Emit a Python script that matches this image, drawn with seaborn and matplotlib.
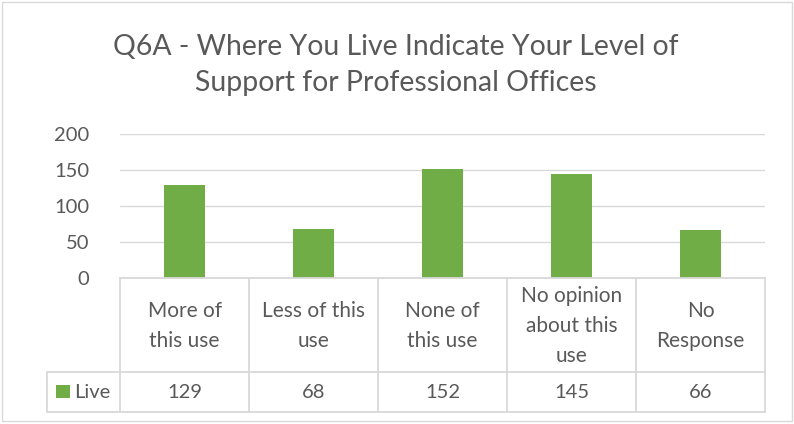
import matplotlib
matplotlib.use("Agg")
import matplotlib.pyplot as plt
import seaborn as sns
import pandas as pd
from matplotlib.patches import Rectangle
from matplotlib.lines import Line2D

# Survey responses (Q6A)
categories = ["More of\nthis use", "Less of this\nuse", "None of\nthis use",
              "No opinion\nabout this\nuse", "No\nResponse"]
live = [129, 68, 152, 145, 66]
series_name = "Live"
title = "Q6A - Where You Live Indicate Your Level of\nSupport for Professional Offices"
yticks = [0, 50, 100, 150, 200]

GREEN = "#70AD47"
GRID = "#D9D9D9"
TEXT = "#595959"
FS = 14.5
FS_CAT = 15

sns.set_theme(style="white")
plt.rcParams["font.family"] = ["Lato", "DejaVu Sans"]

W, H = 794, 424
fig = plt.figure(figsize=(W / 100, H / 100), dpi=100)

def fx(px):
    return px / W

def fy(py):
    return 1 - py / H

# Plot area for the bars
x0, x1, ytop, ybot = 120, 765, 134, 278
ax = fig.add_axes([fx(x0), fy(ybot), fx(x1) - fx(x0), fy(ytop) - fy(ybot)])
df = pd.DataFrame({"cat": categories, "val": live})
sns.barplot(data=df, x="cat", y="val", color=GREEN, saturation=1, width=0.32,
            ax=ax, edgecolor="none")
ax.set_xlim(-0.5, len(categories) - 0.5)
ax.set_ylim(0, 200)
ax.set_yticks(yticks)
ax.set_yticklabels([str(v) for v in yticks], fontsize=FS, color=TEXT)
ax.tick_params(axis="y", length=0, pad=22)
ax.set_xticks([])
ax.set_xlabel("")
ax.set_ylabel("")
ax.grid(axis="y", color=GRID, linewidth=1.0)
ax.set_axisbelow(True)
for s in ax.spines.values():
    s.set_visible(False)

# Data table beneath the plot area
tab_bottom_cat, tab_bottom = 372, 412
tx = fig.add_axes([fx(x0), fy(tab_bottom), fx(x1) - fx(x0), fy(ybot) - fy(tab_bottom)])
tx.set_xlim(-0.5, len(categories) - 0.5)
tx.set_ylim(tab_bottom, ybot)  # pixel rows, top at ybot
tx.axis("off")
colw = (x1 - x0) / len(categories)
legend_left = -0.5 - (x0 - 47) / colw
lw = 1.3
line_kw = dict(color=GRID, linewidth=lw, clip_on=False, solid_capstyle="projecting")
# horizontal rules
tx.add_line(Line2D([-0.5, len(categories) - 0.5], [ybot, ybot], **line_kw))
tx.add_line(Line2D([legend_left, len(categories) - 0.5], [tab_bottom_cat, tab_bottom_cat], **line_kw))
tx.add_line(Line2D([legend_left, len(categories) - 0.5], [tab_bottom, tab_bottom], **line_kw))
# vertical rules
for i in range(len(categories) + 1):
    tx.add_line(Line2D([i - 0.5, i - 0.5], [ybot, tab_bottom], **line_kw))
tx.add_line(Line2D([legend_left, legend_left], [tab_bottom_cat, tab_bottom], **line_kw))

for i, (c, v) in enumerate(zip(categories, live)):
    tx.text(i, (ybot + tab_bottom_cat) / 2 + 1, c, ha="center", va="center",
            fontsize=FS_CAT, color=TEXT, linespacing=1.6)
    tx.text(i, (tab_bottom_cat + tab_bottom) / 2 + 1, str(v), ha="center", va="center",
            fontsize=FS, color=TEXT)

# legend key in the table
key_x = -0.5 - (x0 - 56) / colw
key_w = 14 / colw
tx.add_patch(Rectangle((key_x, 385), key_w, 13, facecolor=GREEN, edgecolor="none",
                       clip_on=False))
tx.text(-0.5 - (x0 - 74) / colw, (tab_bottom_cat + tab_bottom) / 2 + 1, series_name,
        ha="left", va="center", fontsize=FS, color=TEXT)

# title
fig.text(fx(396), fy(65), title, ha="center", va="center", fontsize=20.4,
         color=TEXT, linespacing=1.5)

# chart border
fig.add_artist(Rectangle((fx(1.5), fy(421)), fx(790), fy(1.5) - fy(421),
                         transform=fig.transFigure, fill=False,
                         edgecolor=GRID, linewidth=1.0))

fig.savefig("out.png", dpi=100)
